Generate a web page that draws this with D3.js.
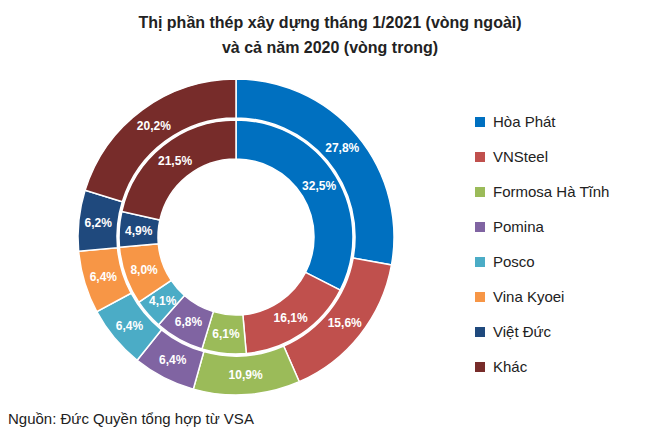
<!DOCTYPE html>
<html><head><meta charset="utf-8">
<script src="https://cdn.jsdelivr.net/npm/d3@7"></script>
<style>body{margin:0;background:#fff}svg{font-family:"Liberation Sans",Arial,sans-serif}</style>
</head><body>
<script>
const categories = ["Hòa Phát","VNSteel","Formosa Hà Tĩnh","Pomina","Posco","Vina Kyoei","Việt Đức","Khác"];
const outerValues = [27.8,15.6,10.9,6.4,6.4,6.4,6.2,20.2];
const innerValues = [32.5,16.1,6.1,6.8,4.1,8.0,4.9,21.5];
const colors = ["#0070C0","#C0504D","#9BBB59","#8064A2","#4BACC6","#F79646","#1F497D","#772C2A"];

const svg = d3.select("body").append("svg").attr("width",656).attr("height",441);
svg.append("rect").attr("width",656).attr("height",441).attr("fill","#fff");

const title = svg.append("text").attr("text-anchor","middle").attr("font-weight","bold").attr("font-size",16).attr("fill","#222");
title.append("tspan").attr("x",330).attr("y",28).text("Thị phần thép xây dựng tháng 1/2021 (vòng ngoài)");
title.append("tspan").attr("x",330).attr("y",53).text("và cả năm 2020 (vòng trong)");

const color = d3.scaleOrdinal().domain(categories).range(colors);
const pie = d3.pie().sort(null).value(d => d.v);
const g = svg.append("g").attr("transform","translate(236,237)");

function ring(values, r0, r1){
  const arc = d3.arc().innerRadius(r0).outerRadius(r1);
  const arcs = pie(values.map((v,i)=>({v, c:categories[i]})));
  g.append("g").selectAll("path").data(arcs).enter().append("path")
    .attr("d",arc).attr("fill",d=>color(d.data.c)).attr("stroke","#fff").attr("stroke-width",1.5);
  g.append("g").selectAll("text").data(arcs).enter().append("text")
    .attr("transform",d=>"translate("+arc.centroid(d)+")")
    .attr("text-anchor","middle").attr("dy","0.35em")
    .attr("font-size",12).attr("font-weight","bold").attr("fill","#fff")
    .text(d=>d.data.v.toFixed(1).replace(".",",")+"%");
}
ring(outerValues,119,158);
ring(innerValues,78,117);

const leg = svg.append("g").selectAll("g").data(categories).enter().append("g")
  .attr("transform",(d,i)=>"translate(475,"+(122+i*35)+")");
leg.append("rect").attr("x",0).attr("y",-5).attr("width",10).attr("height",10).attr("fill",d=>color(d));
leg.append("text").attr("x",18).attr("dy","0.35em").attr("font-size",15).attr("fill","#222").text(d=>d);

svg.append("text").attr("x",8).attr("y",424).attr("font-size",15).attr("fill","#222").text("Nguồn: Đức Quyền tổng hợp từ VSA");
</script>
</body></html>
